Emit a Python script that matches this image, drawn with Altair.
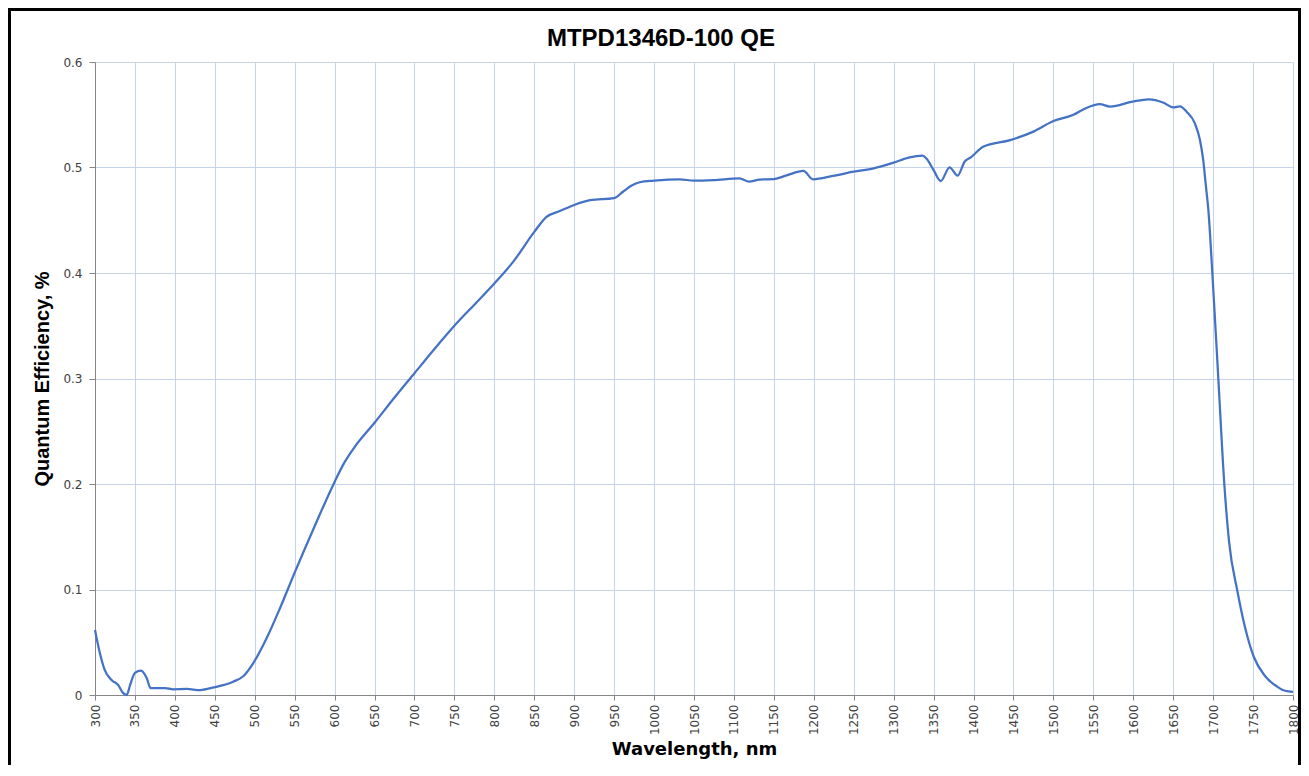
import altair as alt
import pandas as pd

wavelength = [300, 306, 312, 321, 329, 335, 339.6, 344, 350, 357.6, 364.7, 369.7, 377, 387.6, 398,
              415, 431.5, 449, 473, 486, 498, 515, 532, 550, 575, 600, 612, 625, 650, 675, 700,
              725, 750, 775, 800, 824, 850, 865, 882, 900, 920, 950, 961, 972, 982, 1000, 1032,
              1050, 1074, 1107, 1119, 1132, 1150, 1166, 1187, 1199, 1224, 1250, 1275, 1300, 1320,
              1336, 1341, 1350, 1359, 1370, 1380, 1389, 1397, 1412, 1446, 1475, 1500, 1525, 1540,
              1558, 1571, 1599, 1619, 1638, 1650, 1658.5, 1667, 1677, 1683.5, 1687.6, 1691, 1694,
              1699, 1706.5, 1714, 1720, 1730, 1740, 1751, 1765, 1780, 1790, 1800]
qe = [0.0616, 0.040, 0.024, 0.014, 0.0095, 0.002, 0.0, 0.0095, 0.021, 0.023, 0.016, 0.0064, 0.0064,
      0.0066, 0.0054, 0.0057, 0.0047, 0.0073, 0.0126, 0.018, 0.030, 0.054, 0.083, 0.116, 0.160,
      0.202, 0.22, 0.235, 0.258, 0.282, 0.305, 0.328, 0.350, 0.370, 0.390, 0.411, 0.439, 0.453,
      0.4587, 0.4645, 0.469, 0.471, 0.477, 0.483, 0.486, 0.4875, 0.4888, 0.4875, 0.488, 0.4897,
      0.4866, 0.4886, 0.489, 0.4925, 0.4967, 0.4888, 0.492, 0.496, 0.4992, 0.5046, 0.5096,
      0.5112, 0.5085, 0.4976, 0.4872, 0.5002, 0.4923, 0.5057, 0.5098, 0.5197, 0.526, 0.534,
      0.544, 0.550, 0.556, 0.560, 0.5577, 0.5624, 0.5646, 0.5614, 0.557, 0.558, 0.5527, 0.542,
      0.526, 0.507, 0.482, 0.46, 0.40, 0.30, 0.20, 0.145, 0.10, 0.064, 0.036, 0.018, 0.008,
      0.004, 0.003]

x_ticks = list(range(300, 1801, 50))
y_ticks = [0, 0.1, 0.2, 0.3, 0.4, 0.5, 0.6]
title_text = "MTPD1346D-100 QE"

df = pd.DataFrame({"wavelength": wavelength, "qe": qe})

W, H = 1198, 633
PAD_L, PAD_T, PAD_R, PAD_B = 87, 54, 8, 70

line = alt.Chart(df).mark_line(
    color="#4472C4", strokeWidth=2.25, interpolate="monotone"
).encode(
    x=alt.X("wavelength:Q",
            scale=alt.Scale(domain=[300, 1800], nice=False, zero=False),
            axis=alt.Axis(values=x_ticks, format="d", title="Wavelength, nm", labelAngle=-90,
                          labelAlign="right", labelBaseline="middle",
                          labelFont="DejaVu Sans", labelFontSize=12, labelColor="#404040",
                          labelPadding=4, tickSize=5, titlePadding=6,
                          titleFont="DejaVu Sans", titleFontSize=18, titleFontWeight="bold",
                          labelFlush=False, labelOverlap=False)),
    y=alt.Y("qe:Q",
            scale=alt.Scale(domain=[0, 0.6], nice=False),
            axis=alt.Axis(values=y_ticks, format=".1~f", title="Quantum Efficiency, %",
                          labelFont="DejaVu Sans", labelFontSize=12, labelColor="#404040",
                          labelPadding=7, tickSize=6, titlePadding=10,
                          titleFont="Liberation Sans", titleFontSize=20, titleFontWeight="bold",
                          labelFlush=False)),
)

title = alt.Chart(pd.DataFrame({"t": [title_text]})).mark_text(
    font="Liberation Sans", fontSize=24, fontWeight="bold", color="black",
    align="center", baseline="alphabetic"
).encode(
    text="t:N",
    x=alt.value(661 - 95),
    y=alt.value(46 - 62),
)

border = alt.Chart(pd.DataFrame({"k": [0]})).mark_rect(
    fill="transparent", stroke="black", strokeWidth=3
).encode(
    x=alt.value(-PAD_L + 1.5),
    x2=alt.value(W + PAD_R - 1.5),
    y=alt.value(-PAD_T + 1.5),
    y2=alt.value(H + PAD_B + 40),
)

chart = alt.layer(line, title, border).properties(
    width=W, height=H,
    padding={"left": PAD_L, "top": PAD_T, "right": PAD_R, "bottom": PAD_B},
    autosize=alt.AutoSizeParams(type="none"),
).configure_view(stroke=None).configure_axis(
    grid=True, gridColor="#c5d3ec", gridWidth=1,
    domainColor="#868686", tickColor="#868686",
    titleColor="black",
)

chart.save("out.html", embed_options={"renderer": "svg", "actions": False})
